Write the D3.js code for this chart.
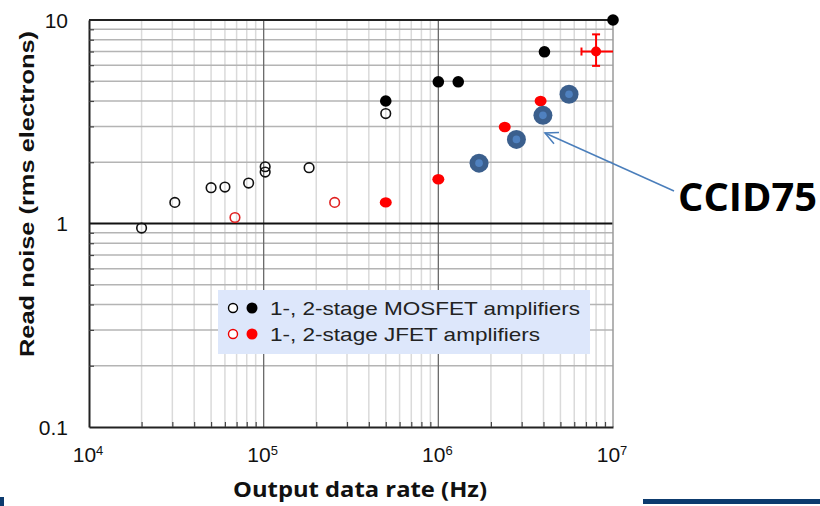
<!DOCTYPE html>
<html>
<head>
<meta charset="utf-8">
<script src="https://cdn.jsdelivr.net/npm/d3@7"></script>
<style>
  body { margin: 0; background: #fff; }
  svg { display: block; }
  text { font-family: "Liberation Sans", Arial, sans-serif; }
</style>
</head>
<body>
<div id="chart"></div>
<script>
// Data: [output data rate (Hz), read noise (rms e-)]
const mosfetOneStage = [[2e4, 0.95], [3.1e4, 1.27], [5e4, 1.5], [6e4, 1.51], [8.2e4, 1.58],
  [1.02e5, 1.79], [1.02e5, 1.9], [1.82e5, 1.88], [5e5, 3.47]];
const mosfetTwoStage = [[5e5, 4.0], [1e6, 4.97], [1.3e6, 4.97], [4.05e6, 6.98], [1e7, 10]];
const jfetOneStage = [[6.85e4, 1.07], [2.55e5, 1.27]];
const jfetTwoStage = [[5e5, 1.27], [1e6, 1.65], [2.4e6, 2.98], [3.85e6, 4.0]];
// point with error bars: [x, y, xLow, xHigh, yLow, yHigh]
const jfetErrorPoint = [[8e6, 7.0, 6.6e6, 1e7, 5.95, 8.5]];
const ccid75 = [[1.71e6, 1.98], [2.8e6, 2.59], [3.97e6, 3.4], [5.6e6, 4.32]];

const xTicks = [1e4, 1e5, 1e6, 1e7];
const xTickExp = ['4', '5', '6', '7'];
const yTicks = [0.1, 1, 10];
const yTickLabels = ['0.1', '1', '10'];
const legendLabels = ['1-, 2-stage MOSFET amplifiers', '1-, 2-stage JFET amplifiers'];

const width = 820, height = 506;
const svg = d3.select('#chart').append('svg')
  .attr('width', width)
  .attr('height', height);

const x = d3.scaleLog().domain([1e4, 1e7]).range([89, 613]);
const y = d3.scaleLog().domain([0.1, 10]).range([427, 20]);

// minor values for every decade
const minorX = [], minorY = [];
[1e4, 1e5, 1e6].forEach((d) => { for (let k = 2; k <= 9; k++) minorX.push(d * k); });
[0.1, 1].forEach((d) => { for (let k = 2; k <= 9; k++) minorY.push(d * k); });

// Grid
const grid = svg.append('g');
grid.selectAll('.vminor').data(minorX).enter().append('line')
  .attr('x1', (d) => x(d)).attr('x2', (d) => x(d))
  .attr('y1', y(10)).attr('y2', y(0.1))
  .attr('stroke', '#dadada').attr('stroke-width', 1.5);
grid.selectAll('.hminor').data(minorY).enter().append('line')
  .attr('x1', x(1e4)).attr('x2', x(1e7))
  .attr('y1', (d) => y(d)).attr('y2', (d) => y(d))
  .attr('stroke', '#b4b4b4').attr('stroke-width', 1.5);
grid.selectAll('.vmajor').data([1e5, 1e6]).enter().append('line')
  .attr('x1', (d) => x(d)).attr('x2', (d) => x(d))
  .attr('y1', y(10)).attr('y2', y(0.1))
  .attr('stroke', '#6a6a6a').attr('stroke-width', 1.3);
grid.append('line')
  .attr('x1', x(1e4)).attr('x2', x(1e7))
  .attr('y1', y(1)).attr('y2', y(1))
  .attr('stroke', '#111').attr('stroke-width', 2);
// right border
grid.append('line')
  .attr('x1', x(1e7)).attr('x2', x(1e7))
  .attr('y1', y(10)).attr('y2', y(0.1))
  .attr('stroke', '#9a9a9a').attr('stroke-width', 1.5);
grid.append('line')
  .attr('x1', x(1e4)).attr('x2', x(1e7))
  .attr('y1', y(10)).attr('y2', y(10))
  .attr('stroke', '#222').attr('stroke-width', 2);

// Axes with inner ticks
const xAxis = svg.append('g')
  .attr('transform', 'translate(0,' + y(0.1) + ')')
  .call(d3.axisBottom(x).tickValues(minorX).tickSizeInner(-5).tickSizeOuter(0).tickFormat(''));
const yAxis = svg.append('g')
  .attr('transform', 'translate(' + x(1e4) + ',0)')
  .call(d3.axisLeft(y).tickValues(minorY).tickSizeInner(-5).tickSizeOuter(0).tickFormat(''));
[xAxis, yAxis].forEach((a) => {
  a.select('.domain').attr('stroke', '#222').attr('stroke-width', 2);
  a.selectAll('.tick line').attr('stroke', '#444').attr('stroke-width', 1.2);
});

// Tick labels
xTicks.forEach((d, i) => {
  const t = svg.append('text')
    .attr('x', x(d) - 1).attr('y', 462)
    .attr('text-anchor', 'middle')
    .attr('font-size', 21).attr('fill', '#111');
  t.append('tspan').text('10');
  t.append('tspan').attr('font-size', 13).attr('dy', -7).text(xTickExp[i]);
});
svg.selectAll('.ylab').data(yTicks).enter().append('text')
  .attr('x', 68).attr('y', (d) => y(d) + 7.5)
  .attr('text-anchor', 'end')
  .attr('font-size', 21).attr('fill', '#111')
  .text((d, i) => yTickLabels[i]);

// Axis titles
svg.append('text')
  .attr('transform', 'translate(34,' + 194 + ') rotate(-90)')
  .attr('text-anchor', 'middle')
  .attr('font-size', 21).attr('font-weight', 'bold').attr('fill', '#111')
  .attr('textLength', 326).attr('lengthAdjust', 'spacingAndGlyphs')
  .text('Read noise (rms electrons)');
svg.append('text')
  .attr('x', 360).attr('y', 497)
  .attr('text-anchor', 'middle')
  .style('font-family', '"Open Sans", sans-serif')
  .attr('font-size', 21).attr('font-weight', 'bold').attr('fill', '#111')
  .attr('textLength', 254).attr('lengthAdjust', 'spacingAndGlyphs')
  .text('Output data rate (Hz)');

// Legend
const legend = svg.append('g');
legend.append('rect')
  .attr('x', 218).attr('y', 290).attr('width', 372).attr('height', 64)
  .attr('fill', '#dde7fb');
const legendWidths = [310, 270];
[['#000', '#000'], ['#e00', '#f00']].forEach((c, i) => {
  const ly = 308 + i * 26;
  legend.append('circle').attr('cx', 233).attr('cy', ly).attr('r', 4.5)
    .attr('fill', '#fff').attr('stroke', c[0]).attr('stroke-width', 1.4);
  legend.append('circle').attr('cx', 252).attr('cy', ly).attr('r', 5.5)
    .attr('fill', c[1]);
  legend.append('text').attr('x', 270).attr('y', ly + 7)
    .attr('font-size', 19).attr('fill', '#222')
    .attr('textLength', legendWidths[i]).attr('lengthAdjust', 'spacingAndGlyphs')
    .text(legendLabels[i]);
});

// Data points
const pts = svg.append('g');
pts.selectAll('.mos1').data(mosfetOneStage).enter().append('circle')
  .attr('cx', (d) => x(d[0])).attr('cy', (d) => y(d[1])).attr('r', 4.8)
  .attr('fill', 'none').attr('stroke', '#111').attr('stroke-width', 1.6);
pts.selectAll('.mos2').data(mosfetTwoStage).enter().append('circle')
  .attr('cx', (d) => x(d[0])).attr('cy', (d) => y(d[1])).attr('r', 5.8)
  .attr('fill', '#000');
pts.selectAll('.jf1').data(jfetOneStage).enter().append('circle')
  .attr('cx', (d) => x(d[0])).attr('cy', (d) => y(d[1])).attr('r', 4.8)
  .attr('fill', 'none').attr('stroke', '#e02020').attr('stroke-width', 1.6);
pts.selectAll('.jf2').data(jfetTwoStage).enter().append('ellipse')
  .attr('cx', (d) => x(d[0])).attr('cy', (d) => y(d[1])).attr('rx', 6).attr('ry', 5.2)
  .attr('fill', '#f00');

// Error bar point
const eb = pts.selectAll('.eb').data(jfetErrorPoint).enter().append('g')
  .attr('stroke', '#f00').attr('stroke-width', 2);
eb.append('line')
  .attr('x1', (d) => x(d[2])).attr('x2', (d) => x(d[3]))
  .attr('y1', (d) => y(d[1])).attr('y2', (d) => y(d[1]));
eb.append('line')
  .attr('x1', (d) => x(d[0])).attr('x2', (d) => x(d[0]))
  .attr('y1', (d) => y(d[4])).attr('y2', (d) => y(d[5]));
eb.append('line')
  .attr('x1', (d) => x(d[2])).attr('x2', (d) => x(d[2]))
  .attr('y1', (d) => y(d[1]) - 4).attr('y2', (d) => y(d[1]) + 4);
eb.append('line')
  .attr('x1', (d) => x(d[0]) - 4).attr('x2', (d) => x(d[0]) + 4)
  .attr('y1', (d) => y(d[4])).attr('y2', (d) => y(d[4]));
eb.append('line')
  .attr('x1', (d) => x(d[0]) - 4).attr('x2', (d) => x(d[0]) + 4)
  .attr('y1', (d) => y(d[5])).attr('y2', (d) => y(d[5]));
eb.append('circle')
  .attr('cx', (d) => x(d[0])).attr('cy', (d) => y(d[1])).attr('r', 5)
  .attr('fill', '#f00').attr('stroke', 'none');

// CCID75 markers
pts.selectAll('.ccid').data(ccid75).enter().append('circle')
  .attr('cx', (d) => x(d[0])).attr('cy', (d) => y(d[1])).attr('r', 9.5)
  .attr('fill', '#3b5f8d');
pts.selectAll('.ccidIn').data(ccid75).enter().append('circle')
  .attr('cx', (d) => x(d[0])).attr('cy', (d) => y(d[1])).attr('r', 3.8)
  .attr('fill', '#4f81c0');

// Annotation arrow
const tip = [545, 133];
const tail = [674, 191];
const ang = Math.atan2(tail[1] - tip[1], tail[0] - tip[0]);
const head = 14, spread = 0.45;
svg.append('line')
  .attr('x1', tail[0]).attr('y1', tail[1]).attr('x2', tip[0]).attr('y2', tip[1])
  .attr('stroke', '#4a7ebb').attr('stroke-width', 1.5);
svg.append('path')
  .attr('d', 'M' + (tip[0] + head * Math.cos(ang - spread)) + ',' + (tip[1] + head * Math.sin(ang - spread)) +
    'L' + tip[0] + ',' + tip[1] +
    'L' + (tip[0] + head * Math.cos(ang + spread)) + ',' + (tip[1] + head * Math.sin(ang + spread)))
  .attr('fill', 'none').attr('stroke', '#4a7ebb').attr('stroke-width', 1.5);
svg.append('text')
  .attr('x', 678).attr('y', 211)
  .style('font-family', '"Open Sans", sans-serif')
  .attr('font-size', 39).attr('font-weight', 'bold').attr('fill', '#000')
  .attr('textLength', 139).attr('lengthAdjust', 'spacingAndGlyphs')
  .text('CCID75');

// Decorative slide rules at the bottom
svg.append('rect').attr('x', 0).attr('y', 497).attr('width', 4).attr('height', 9).attr('fill', '#0d3b6e');
svg.append('rect').attr('x', 643).attr('y', 499).attr('width', 177).attr('height', 5).attr('fill', '#0d3b6e');
</script>
</body>
</html>
